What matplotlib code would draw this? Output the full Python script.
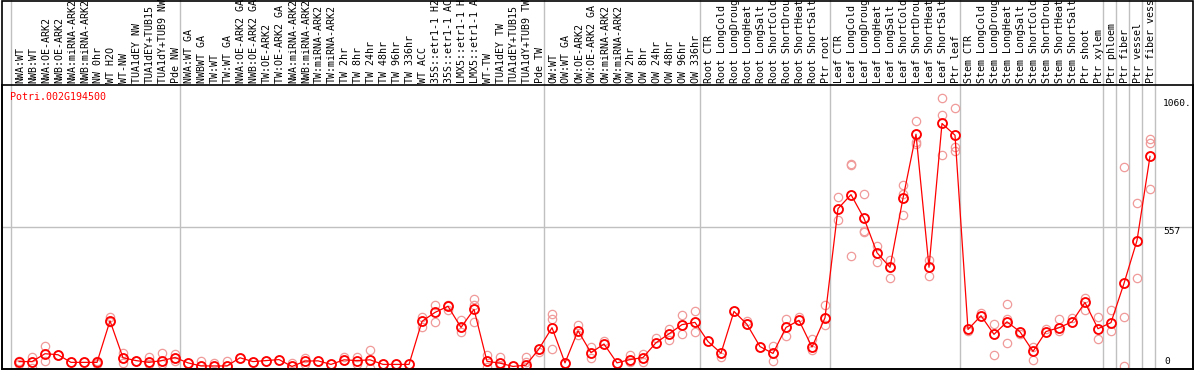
import matplotlib
matplotlib.use("Agg")
import matplotlib.pyplot as plt
import matplotlib.transforms as mtransforms
from matplotlib.patches import Rectangle

# Données : échantillons, moyennes et réplicats
gene = "Potri.002G194500"

labels = [
    "NWA:WT", "NWB:WT", "NWA:OE-ARK2", "NWB:OE-ARK2", "NWA:miRNA-ARK2", "NWB:miRNA-ARK2",
    "NW 0hr", "WT H2O", "WT-NW", "TUA1dEY NW", "TUA1dEY+TUB15", "TUA1dY+TUB9 NW", "Pde NW",
    "NWA:WT GA", "NWBWT GA", "TW:WT", "TW:WT GA", "NWA:OE-ARK2 GA", "NWB:OE-ARK2 GA",
    "TW:OE-ARK2", "TW:OE-ARK2 GA", "NWA:miRNA-ARK2", "NWB:miRNA-ARK2", "TW:miRNA-ARK2",
    "TW:miRNA-ARK2", "TW 2hr", "TW 8hr", "TW 24hr", "TW 48hr", "TW 96hr", "TW 336hr",
    "WT ACC", "35S::etr1-1 H2", "35S::etr1-1 AC", "LMX5::etr1-1 H", "LMX5::etr1-1 A",
    "WT-TW", "TUA1dEY TW", "TUA1dEY+TUB15", "TUA1dY+TUB9 TW", "Pde TW",
    "OW:WT", "OW:WT GA", "OW:OE-ARK2", "OW:OE-ARK2 GA", "OW:miRNA-ARK2", "OW:miRNA-ARK2",
    "OW 2hr", "OW 8hr", "OW 24hr", "OW 48hr", "OW 96hr", "OW 336hr",
    "Root CTR", "Root LongCold", "Root LongDroug", "Root LongHeat", "Root LongSalt",
    "Root ShortCold", "Root ShortDrou", "Root ShortHeat", "Root ShortSalt", "Ptr root",
    "Leaf CTR", "Leaf LongCold", "Leaf LongDroug", "Leaf LongHeat", "Leaf LongSalt",
    "Leaf ShortCold", "Leaf ShortDrou", "Leaf ShortHeat", "Leaf ShortSalt", "Ptr leaf",
    "Stem CTR", "Stem LongCold", "Stem LongDroug", "Stem LongHeat", "Stem LongSalt",
    "Stem ShortCold", "Stem ShortDrou", "Stem ShortHeat", "Stem ShortSalt", "Ptr shoot",
    "Ptr xylem", "Ptr phloem", "Ptr fiber", "Ptr vessel", "Ptr fiber vess",
]

group_sizes = [13, 28, 12, 10, 10, 11, 1, 1, 1, 1]

means = [
    29, 29, 60, 56, 26, 26, 26, 189, 44, 33, 26, 33, 45,
    24, 12, 12, 12, 44, 29, 33, 37, 10, 31, 32, 18, 36, 33, 36, 18, 18, 18,
    187, 222, 246, 163, 234, 30, 23, 10, 15, 79,
    162, 24, 150, 64, 98, 24, 37, 45, 103, 138, 174, 183,
    108, 62, 226, 175, 88, 61, 163, 191, 86, 201,
    629, 684, 591, 456, 399, 670, 921, 399, 963, 917,
    155, 209, 136, 185, 146, 69, 147, 162, 185, 261, 158,
    182, 336, 504, 834,
]

reps = [
    [30, 20], [49, 29, 2], [91, 60, 31], [56, 55], [26], [26], [25, 33, 20],
    [204, 189, 185], [62, 44, 25], [33, 30], [46, 26, 20], [62, 33, 20], [57, 45, 30],
    [24], [33, 12], [25, 12], [31, 12], [44], [29], [33], [37], [25, 10], [44, 20],
    [32], [18], [46, 36], [46, 20], [73, 36, 2], [18], [18], [18],
    [204, 187, 164], [250, 222, 183], [250, 246, 230], [191, 163, 145],
    [273, 250, 234, 185], [53, 30, 7], [49, 23, 10], [10], [47, 27, 7], [79, 66],
    [217, 197, 79], [24], [171, 150, 132], [86, 64, 44], [109, 98], [24],
    [53, 37, 27], [57, 45, 27], [121, 103], [158, 138, 115], [213, 174, 138],
    [226, 183, 145],
    [108], [62, 47], [226], [188, 175], [88], [92, 61, 33], [197, 163, 128],
    [204, 191], [117, 86, 75], [250, 201, 171],
    [673, 629, 586], [806, 802, 684, 445], [688, 591, 542, 538], [483, 456, 420],
    [426, 399, 358], [721, 688, 670, 606], [971, 921, 891, 882], [426, 399, 363],
    [1062, 996, 963, 838], [1022, 917, 872, 856],
    [155, 149], [219, 209], [178, 136, 56], [256, 198, 185, 103], [146, 136],
    [86, 69, 36], [158, 147], [197, 162, 149], [201, 185], [280, 261, 230],
    [204, 158, 119],
    [233, 182, 149], [791, 336, 204, 10], [653, 504, 358], [904, 885, 834, 708],
]

max_label = "1060."
max_value = 1060
mid_value = 557

W, H = 1194, 370
fig = plt.figure(figsize=(W / 100, H / 100), dpi=100)
# zone de tracé : pixels x 1.5..1193, y 85..369
ax = fig.add_axes([1.5 / W, 1 / H, 1191.5 / W, 284 / H])

x = list(range(len(means)))
ax.set_xlim((1.5 - 19) / 13, (1193 - 19) / 13)
ax.set_ylim(0, 2 * mid_value)

mono = "DejaVu Sans Mono"

# réplicats
for i, r in enumerate(reps):
    ax.plot([i] * len(r), r, linestyle="none", marker="o", markersize=6,
            markerfacecolor="none", markeredgecolor="#f09a9a", markeredgewidth=0.9,
            zorder=2)

# moyennes
ax.plot(x, means, color="red", linewidth=0.9, marker="o", markersize=6.5,
        markerfacecolor="none", markeredgecolor="red", markeredgewidth=1.3, zorder=3)

# ligne horizontale au milieu
ax.axhline(mid_value, color="#c0c0c0", linewidth=1, zorder=1)

# séparateurs de groupes (prolongés dans la zone des étiquettes)
bounds = [-1]
for g in group_sizes:
    bounds.append(bounds[-1] + g)
for b in bounds:
    ax.axvline(b + 0.38, ymin=0, ymax=370 / 284, color="#c0c0c0", linewidth=1,
               clip_on=False, zorder=1)

# étiquettes verticales
trans = mtransforms.blended_transform_factory(ax.transData, ax.transAxes)
for i, lab in enumerate(labels):
    ax.text(i + 0.08, 1.007, lab, transform=trans, rotation=90, ha="center",
            va="bottom", fontsize=7.2, family=mono, clip_on=False)

# nom du gène
ax.text(8.5 / 1191.5, 0.957, gene, transform=ax.transAxes, color="red",
        fontsize=7.2, family=mono, ha="left", va="center")

# valeurs de l'axe à droite
xt = (1163 - 19) / 13
ax.text(xt, max_value, max_label, fontsize=6.8, family=mono, ha="left", va="top")
ax.text(xt, mid_value, str(mid_value), fontsize=6.8, family=mono, ha="left", va="top")
ax.text(xt + 0.1, 12, "0", fontsize=6.8, family=mono, ha="left", va="bottom")

ax.set_xticks([])
ax.set_yticks([])
for s in ax.spines.values():
    s.set_linewidth(1.2)

# cadre extérieur
fig.add_artist(Rectangle((1.5 / W, 1 / H), 1191.5 / W, 368.5 / H,
                         transform=fig.transFigure, fill=False,
                         edgecolor="black", linewidth=1.2))

fig.savefig("out.png", dpi=100)
